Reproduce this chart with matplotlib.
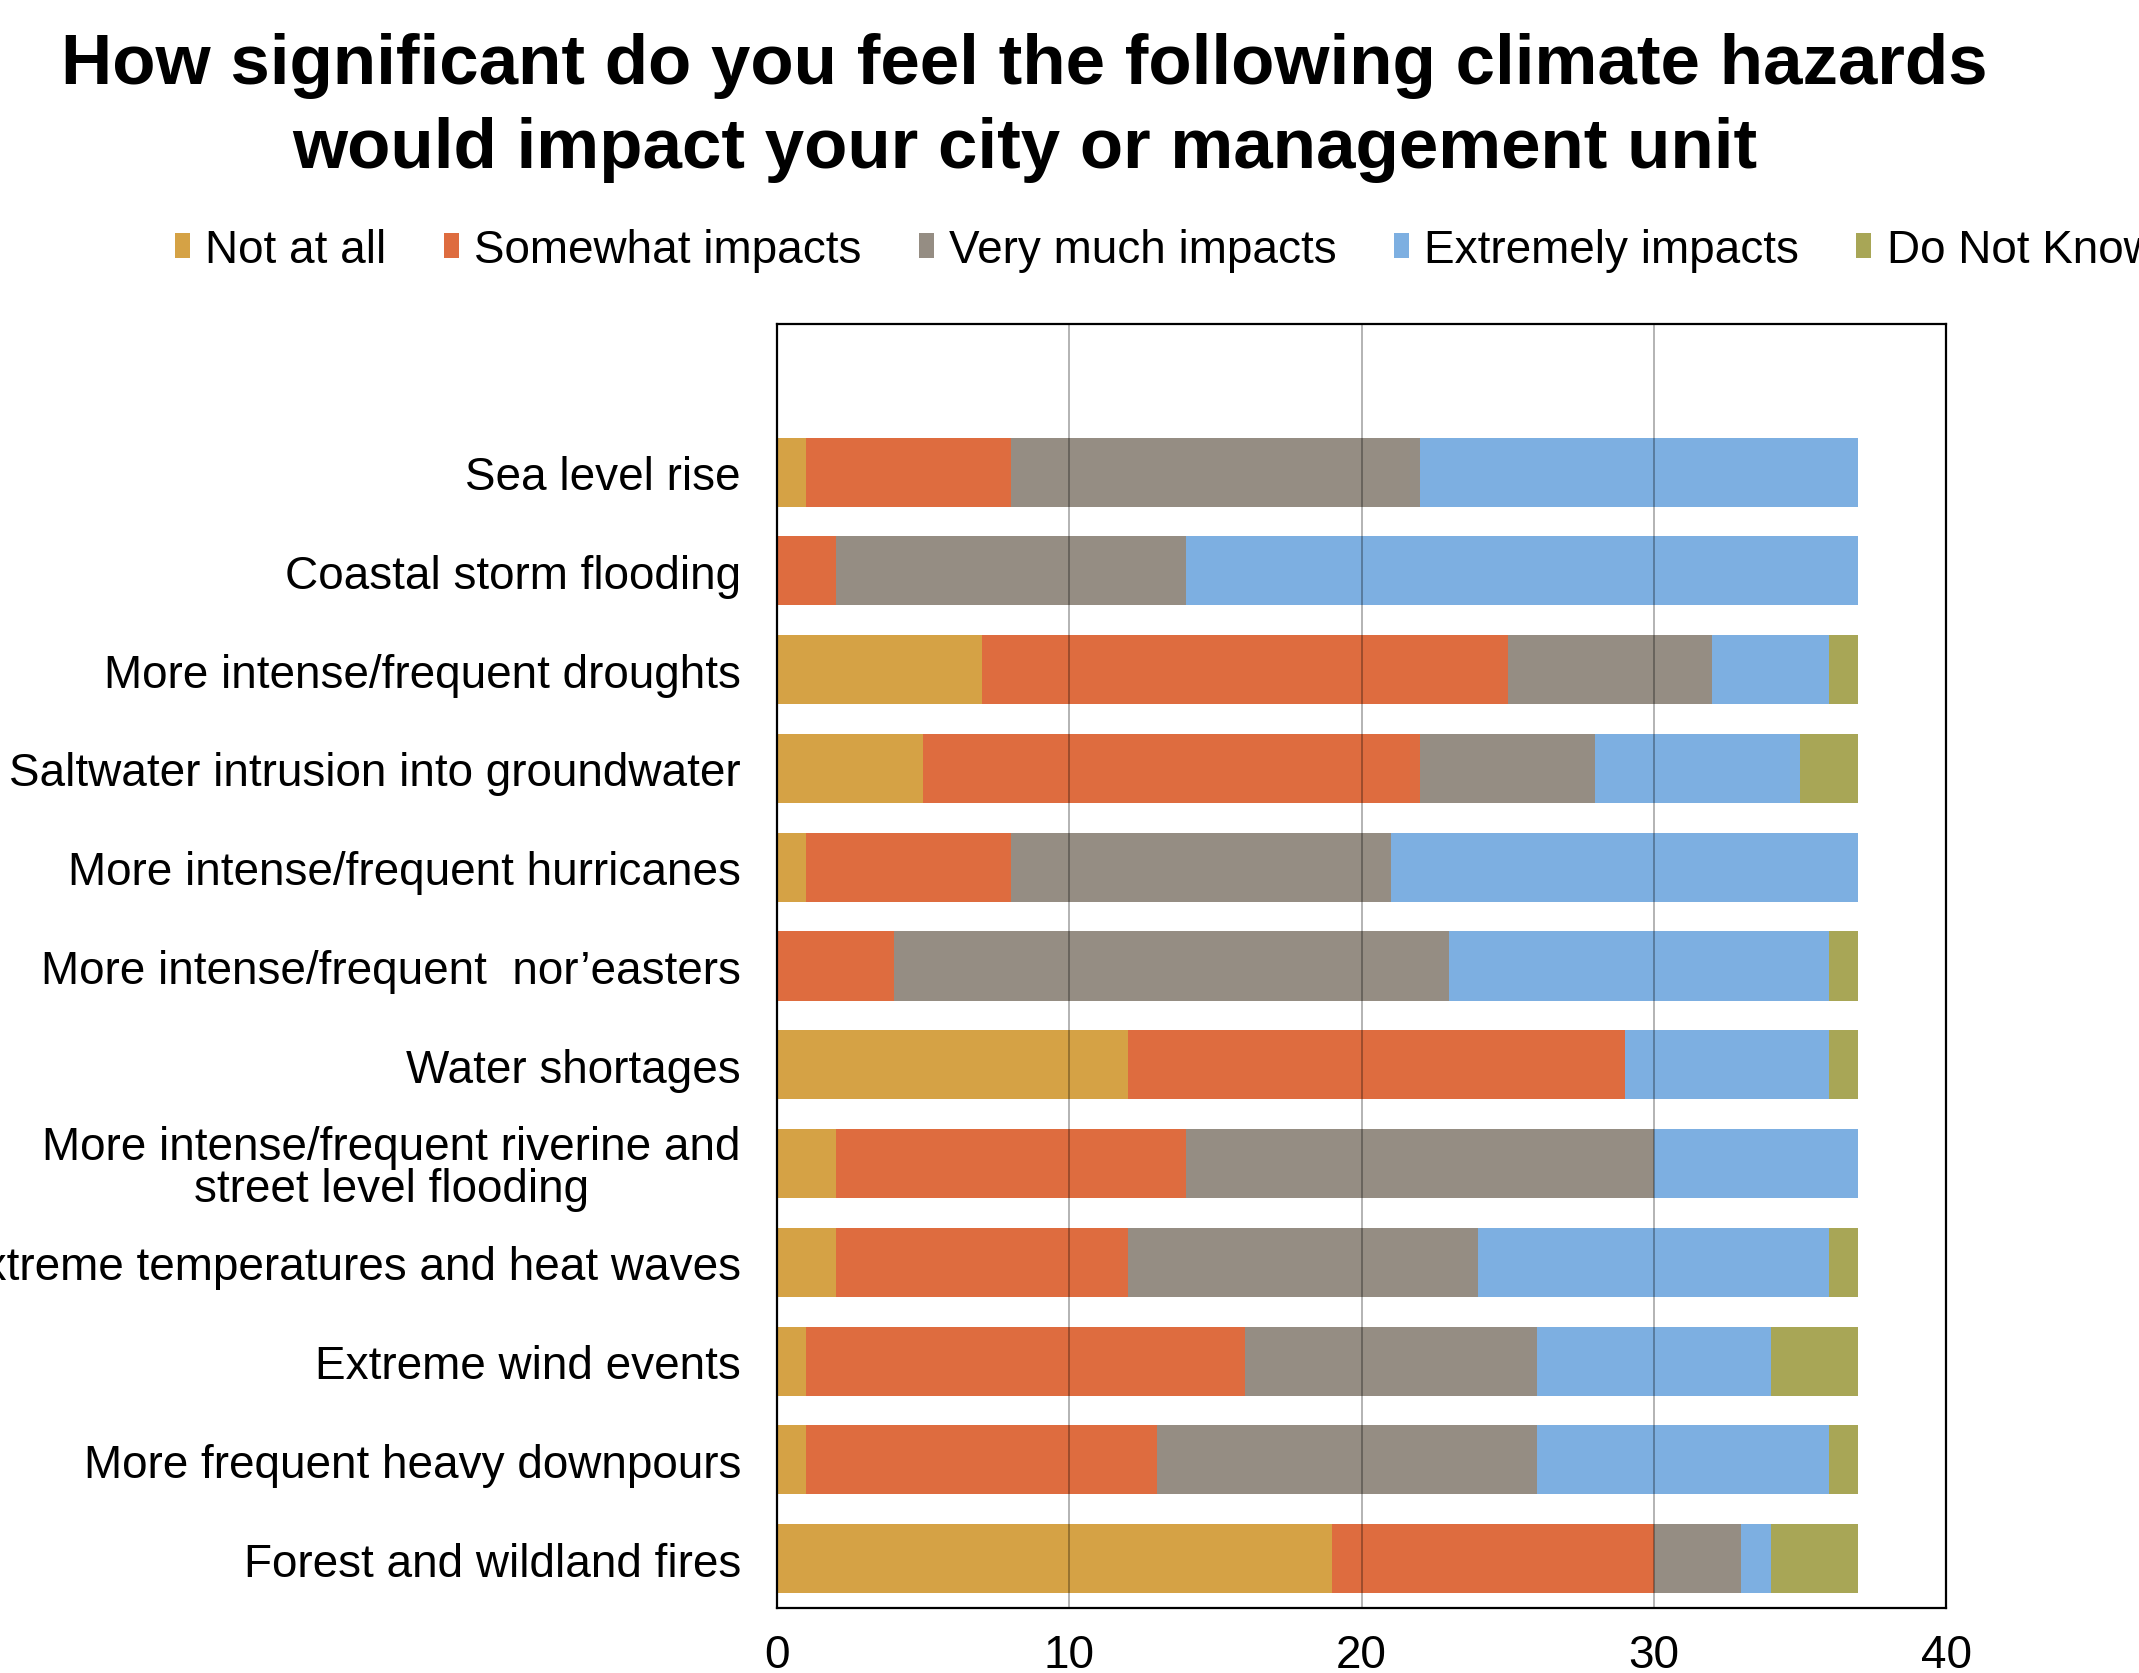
import numpy as np
import matplotlib
matplotlib.use("Agg")
import matplotlib.pyplot as plt

plt.rcParams['font.family'] = ['Liberation Sans', 'DejaVu Sans']

hazards = [
    "Sea level rise",
    "Coastal storm flooding",
    "More intense/frequent droughts",
    "Saltwater intrusion into groundwater",
    "More intense/frequent hurricanes",
    "More intense/frequent  nor\u2019easters",
    "Water shortages",
    "More intense/frequent riverine and\nstreet level flooding",
    "Extreme temperatures and heat waves",
    "Extreme wind events",
    "More frequent heavy downpours",
    "Forest and wildland fires",
]

responses = ["Not at all", "Somewhat impacts", "Very much impacts",
             "Extremely impacts", "Do Not Know"]

not_at_all = [1, 0, 7, 5, 1, 0, 12, 2, 2, 1, 1, 19]
somewhat   = [7, 2, 18, 17, 7, 4, 17, 12, 10, 15, 12, 11]
very_much  = [14, 12, 7, 6, 13, 19, 0, 16, 12, 10, 13, 3]
extremely  = [15, 23, 4, 7, 16, 13, 7, 7, 12, 8, 10, 1]
dont_know  = [0, 0, 1, 2, 0, 1, 1, 0, 1, 3, 1, 3]

colors = ["#D5A245", "#DE6C3F", "#958D83", "#7DAFE1", "#A8A656"]

series = [not_at_all, somewhat, very_much, extremely, dont_know]

fig = plt.figure(figsize=(21.39, 16.74), dpi=100)
ax = fig.add_axes([0.3633, 0.0388, 0.5465, 0.7671])

y = len(hazards) - 1 - np.arange(len(hazards))
left = np.zeros(len(hazards))
for vals, name, c in zip(series, responses, colors):
    ax.barh(y, vals, left=left, height=0.7, color=c, label=name, zorder=2)
    left += np.array(vals)

ax.set_xlim(0, 40)
ax.set_ylim(-0.5, 12.5)
ax.set_xticks([0, 10, 20, 30, 40])
ax.set_yticks(y)
ax.set_yticklabels(hazards)
for lab in ax.get_yticklabels():
    lab.set_multialignment('center')
    lab.set_linespacing(0.95)
ax.tick_params(axis='both', length=0, labelsize=33)
ax.tick_params(axis='y', pad=26)
ax.tick_params(axis='x', pad=18)
ax.xaxis.grid(True, color='black', alpha=0.35, linewidth=1.2, zorder=3)
ax.set_axisbelow(False)
for s in ax.spines.values():
    s.set_linewidth(1.6)
    s.set_color('black')

# title
fig.text(0.479, 0.9355, "How significant do you feel the following climate hazards\nwould impact your city or management unit",
         ha='center', va='center', fontsize=51, fontweight='bold', linespacing=1.35)

fig.legend(loc='center left', bbox_to_anchor=(175 / 2139, 0.850), ncol=5,
           frameon=False, fontsize=33, handlelength=0.33, handleheight=0.45,
           handletextpad=0.33, columnspacing=1.25, borderpad=0, borderaxespad=0)

fig.savefig("out.png", dpi=100)
